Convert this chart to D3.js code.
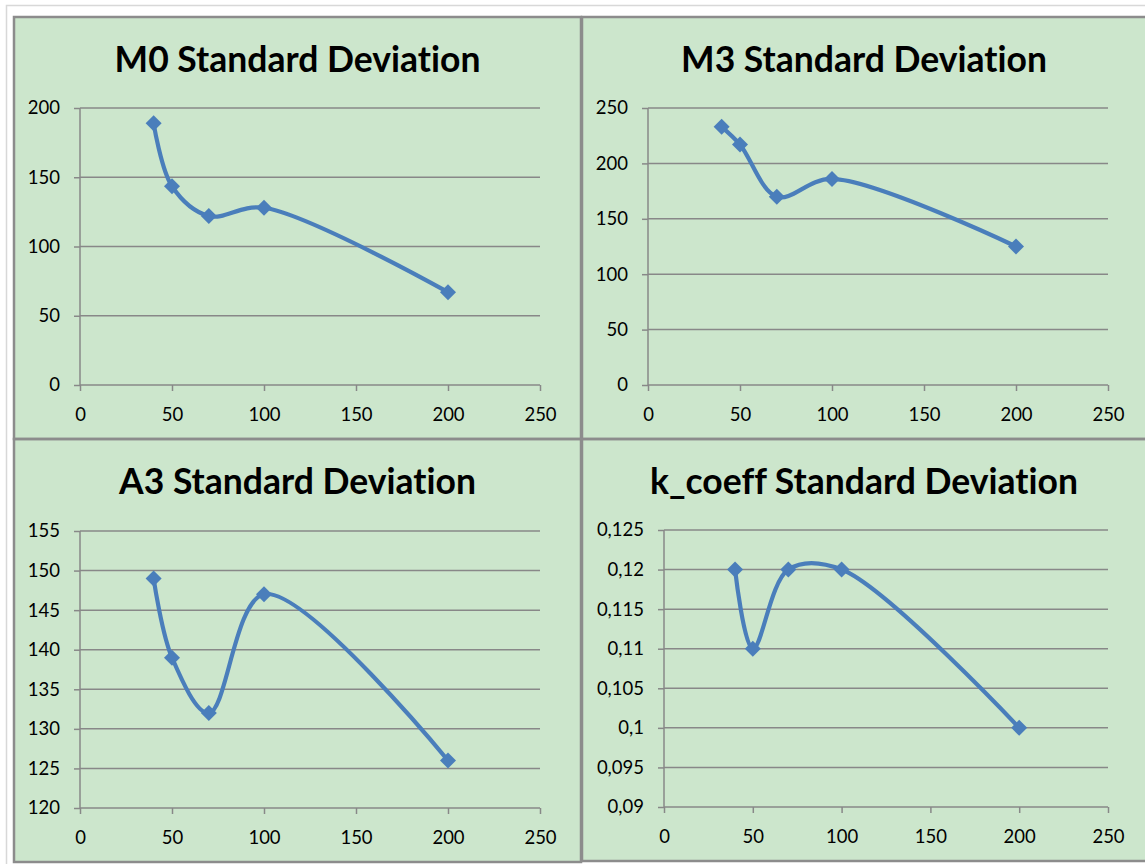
<!DOCTYPE html>
<html>
<head>
<meta charset="utf-8">
<script src="https://cdn.jsdelivr.net/npm/d3@7"></script>
<style>
html,body{margin:0;padding:0;background:#fff;}
svg{display:block;}
text{font-family:Lato,"Open Sans",sans-serif;fill:#000;font-variant-ligatures:none;font-feature-settings:"liga" 0;}
</style>
</head>
<body>
<svg id="c" width="1145" height="864"></svg>
<script>
// ---- data ----
const xValues = [40, 50, 70, 100, 200];
const titles = ["M0 Standard Deviation", "M3 Standard Deviation", "A3 Standard Deviation", "k_coeff Standard Deviation"];
const m0Values = [189, 143.5, 122, 128, 67];
const m3Values = [233, 217, 170, 186, 125];
const a3Values = [149, 139, 132, 147, 126];
const kValues = [0.12, 0.11, 0.12, 0.12, 0.10];
const xTicks = [0, 50, 100, 150, 200, 250];
const m0Ticks = [0, 50, 100, 150, 200];
const m3Ticks = [0, 50, 100, 150, 200, 250];
const a3Ticks = [120, 125, 130, 135, 140, 145, 150, 155];
const kTicks = [0.09, 0.095, 0.1, 0.105, 0.11, 0.115, 0.12, 0.125];

// ---- layout ----
const panels = [
  {box:[14,17,581,439], plot:[80,540,108,385], values:m0Values, ticks:m0Ticks, fmt:d=>String(d)},
  {box:[582,17,1150,439], plot:[648,1108,108,385], values:m3Values, ticks:m3Ticks, fmt:d=>String(d)},
  {box:[14,439,581,862], plot:[80,540,531,808], values:a3Values, ticks:a3Ticks, fmt:d=>String(d)},
  {box:[582,439,1150,861], plot:[664,1108,530,807], values:kValues, ticks:kTicks, fmt:d=>String(+d.toFixed(3)).replace(".", ",")}
];

const svg = d3.select("#c");
// outer page frame
svg.append("rect").attr("x",6.5).attr("y",5.5).attr("width",1150).attr("height",870)
  .attr("fill","#fff").attr("stroke","#d8d8d8").attr("stroke-width",1.5);

const green = "#cce6cc";
const grid = "#888888";
const blue = "#4a7ebb";

panels.forEach((p,i)=>{
  const [bx0,by0,bx1,by1] = p.box;
  svg.append("rect").attr("x",bx0).attr("y",by0).attr("width",bx1-bx0).attr("height",by1-by0)
    .attr("fill",green);
});
panels.forEach((p,i)=>{
  const [bx0,by0,bx1,by1] = p.box;
  const g = svg.append("g");
  const [px0,px1,pyT,pyB] = p.plot;
  const x = d3.scaleLinear().domain([0,250]).range([px0,px1]);
  const y = d3.scaleLinear().domain([p.ticks[0], p.ticks[p.ticks.length-1]]).range([pyB,pyT]);

  // title
  g.append("text").attr("x",(bx0+Math.min(bx1,1148))/2 + (i%2? -1:0)).attr("y", by0 + 55)
    .attr("text-anchor","middle").attr("font-size",35.5).attr("font-weight","bold")
    .text(titles[i]);

  // gridlines
  g.selectAll(".gl").data(p.ticks.slice(1)).enter().append("line")
    .attr("x1",px0).attr("x2",px1).attr("y1",d=>y(d)).attr("y2",d=>y(d))
    .attr("stroke",grid).attr("stroke-width",1.5);

  // y axis
  const ya = g.append("g").attr("transform",`translate(${px0},0)`)
    .call(d3.axisLeft(y).tickValues(p.ticks).tickFormat(p.fmt).tickSize(6).tickPadding(14));
  ya.select(".domain").attr("stroke",grid).attr("stroke-width",1.5).attr("d",`M0,${pyT}V${pyB}`);
  ya.selectAll(".tick line").attr("stroke",grid).attr("stroke-width",1.5);
  ya.selectAll(".tick text").attr("font-size",18.5).attr("font-family","Lato").attr("fill","#000");

  // x axis
  const xa = g.append("g").attr("transform",`translate(0,${pyB})`)
    .call(d3.axisBottom(x).tickValues(xTicks).tickSize(6).tickPadding(17));
  xa.select(".domain").attr("stroke",grid).attr("stroke-width",1.5).attr("d",`M${px0},0H${px1}`);
  xa.selectAll(".tick line").attr("stroke",grid).attr("stroke-width",1.5);
  xa.selectAll(".tick text").attr("font-size",18.5).attr("font-family","Lato").attr("fill","#000");

  // line
  const pts = xValues.map((xv,j)=>[xv,p.values[j]]);
  const line = d3.line().x(d=>x(d[0])).y(d=>y(d[1])).curve(d3.curveCatmullRom.alpha(0.5));
  g.append("path").datum(pts).attr("d",line).attr("fill","none")
    .attr("stroke",blue).attr("stroke-width",4.2).attr("stroke-linejoin","round");
  // markers
  const r = 8;
  g.selectAll(".mk").data(pts).enter().append("path")
    .attr("d",d=>{const cx=x(d[0]),cy=y(d[1]);return `M${cx},${cy-r}L${cx+r},${cy}L${cx},${cy+r}L${cx-r},${cy}Z`;})
    .attr("fill",blue);
});

// panel borders
panels.forEach(p=>{
  const [bx0,by0,bx1,by1] = p.box;
  svg.append("rect").attr("x",bx0).attr("y",by0).attr("width",bx1-bx0).attr("height",by1-by0)
    .attr("fill","none").attr("stroke","#8c8c8c").attr("stroke-width",2.5);
});
</script>
</body>
</html>
